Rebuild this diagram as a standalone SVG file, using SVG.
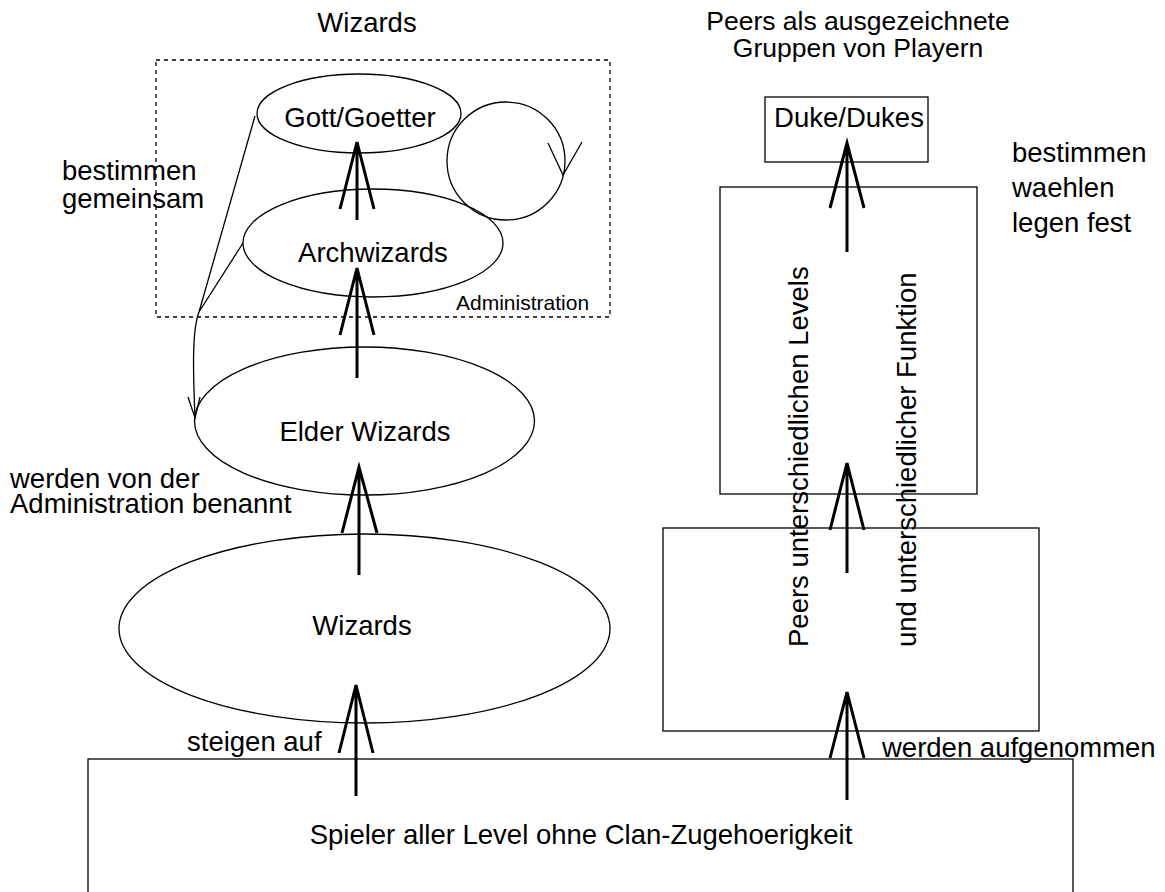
<svg xmlns="http://www.w3.org/2000/svg" width="1165" height="892" viewBox="0 0 1165 892">
<style>
text{font-family:"Liberation Sans",Arial,Helvetica,sans-serif;font-size:27.5px;fill:#000}
.c{text-anchor:middle}
.t{font-size:26.5px}
.shape{fill:none;stroke:#000;stroke-width:1.3}
.arr{fill:none;stroke:#000;stroke-width:3}
.thin{fill:none;stroke:#000;stroke-width:1.3}
</style>
<rect width="1165" height="892" fill="#fff"/>
<text class="c" x="367" y="32">Wizards</text>
<text class="c t" x="858" y="30">Peers als ausgezeichnete</text>
<text class="c t" x="858" y="57">Gruppen von Playern</text>
<g id="admin">
<rect x="156" y="60" width="454" height="257" fill="none" stroke="#000" stroke-width="1.3" stroke-dasharray="4,4"/>
<text x="456" y="310" style="font-size:21px">Administration</text>
</g>
<g id="gott"><ellipse class="shape" cx="359" cy="113.5" rx="102" ry="39.5"/><text class="c" x="360" y="127">Gott/Goetter</text></g>
<g id="arch"><ellipse class="shape" cx="373" cy="243" rx="130" ry="54"/><text class="c" x="373" y="262">Archwizards</text></g>
<g id="elder"><ellipse class="shape" cx="364.5" cy="421" rx="170" ry="74"/><text class="c" x="365" y="441">Elder Wizards</text></g>
<g id="wizards"><ellipse class="shape" cx="364.5" cy="628.5" rx="245.5" ry="94.5"/><text class="c" x="362" y="635">Wizards</text></g>
<g id="spieler"><rect class="shape" x="88" y="759" width="985" height="150"/><text class="c" x="581" y="844">Spieler aller Level ohne Clan-Zugehoerigkeit</text></g>
<g id="duke"><rect class="shape" x="765" y="97" width="163" height="65"/><text class="c" x="849" y="127">Duke/Dukes</text></g>
<g id="peers"><rect class="shape" x="720" y="187" width="257" height="307"/></g>
<g id="peers2"><rect class="shape" x="663" y="528" width="376" height="203"/></g>
<g id="labels">
<text transform="translate(808,647) rotate(-90)">Peers unterschiedlichen Levels</text>
<text transform="translate(916,647) rotate(-90)">und unterschiedlicher Funktion</text>
<text x="62" y="180">bestimmen</text>
<text x="62" y="208">gemeinsam</text>
<text x="10" y="488">werden von der</text>
<text x="10" y="513">Administration benannt</text>
<text x="187" y="751">steigen auf</text>
<text x="882" y="757">werden aufgenommen</text>
<text x="1012" y="162">bestimmen</text>
<text x="1012" y="197">waehlen</text>
<text x="1012" y="232">legen fest</text>
</g>
<g id="connectors">
<path class="arr" d="M357,220V142M340,209L357,142L374,209"/>
<path class="arr" d="M357,378V268M340,335L357,268L374,335"/>
<path class="arr" d="M359,575V467M342,533L359,467L377,533"/>
<path class="arr" d="M356,796V685M339,753L356,685L373,753"/>
<path class="arr" d="M847,252V143M830,208L847,143L864,208"/>
<path class="arr" d="M847,573V463M830,530L847,463L864,530"/>
<path class="arr" d="M847,800V692M830,758L847,692L864,758"/>
<circle class="thin" cx="506" cy="161" r="59"/>
<path class="thin" d="M548,143L563,175L582,142"/>
<path class="thin" d="M255,116L199,312M243,243L199,312C192,330 193,370 195,418"/>
<path class="thin" d="M188,397L195,418L200,397"/>
</g>
</svg>
